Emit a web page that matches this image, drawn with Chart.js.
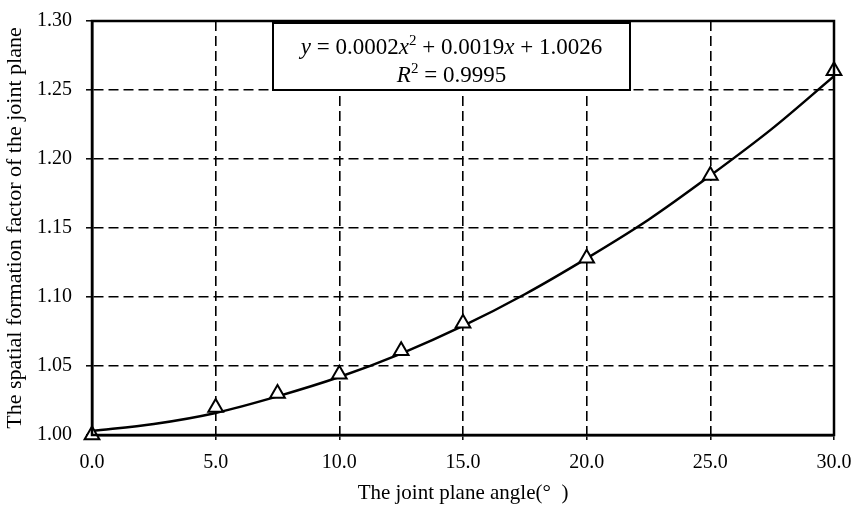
<!DOCTYPE html>
<html>
<head>
<meta charset="utf-8">
<script src="https://cdn.jsdelivr.net/npm/chart.js@4.4.0/dist/chart.umd.min.js"></script>
<style>
html,body{margin:0;padding:0;background:#fff;}
#wrap{width:855px;height:512px;}
</style>
</head>
<body>
<div id="wrap"><canvas id="c" width="855" height="512"></canvas></div>
<script>
// Measured points (joint plane angle vs spatial formation factor)
const angles = [0, 5, 7.5, 10, 12.5, 15, 20, 25, 30];
const factors = [1.000, 1.020, 1.030, 1.044, 1.061, 1.081, 1.128, 1.188, 1.264];
// Trend line
const trendX = [0, 2.5, 5, 7.5, 10, 12.5, 15, 17.5, 20, 22.5, 25, 27.5, 30];
const trendY = [1.003, 1.008, 1.016, 1.028, 1.042, 1.059, 1.079, 1.102, 1.128, 1.156, 1.188, 1.222, 1.260];
const xTicks = [0, 5, 10, 15, 20, 25, 30];
const yTicks = [1.00, 1.05, 1.10, 1.15, 1.20, 1.25, 1.30];
const eqLine1 = [
  {t:'y', i:true}, {t:' = 0.0002'}, {t:'x', i:true}, {t:'2', sup:true},
  {t:' + 0.0019'}, {t:'x', i:true}, {t:' + 1.0026'}
];
const eqLine2 = [{t:'R', i:true}, {t:'2', sup:true}, {t:' = 0.9995'}];
const xTitle = 'The joint plane angle(°  )';
const yTitle = 'The spatial formation factor of the joint plane';

const FONT = '"Liberation Serif", "Times New Roman", serif';

const framePlugin = {
  id: 'frame',
  afterDatasetsDraw(chart) {
    const {ctx, chartArea: a} = chart;
    ctx.save();
    ctx.strokeStyle = '#000';
    ctx.lineWidth = 2.5;
    ctx.strokeRect(a.left, a.top, a.right - a.left, a.bottom - a.top);
    ctx.restore();
  }
};

function drawRich(ctx, segs, cx, cy, size) {
  const fontFor = s => (s.i ? 'italic ' : '') + (s.sup ? Math.round(size*0.65) : size) + 'px ' + FONT;
  let w = 0;
  segs.forEach(s => { ctx.font = fontFor(s); w += ctx.measureText(s.t).width; });
  let x = cx - w/2;
  ctx.textBaseline = 'alphabetic';
  ctx.textAlign = 'left';
  segs.forEach(s => {
    ctx.font = fontFor(s);
    ctx.fillText(s.t, x, s.sup ? cy - size*0.4 : cy);
    x += ctx.measureText(s.t).width;
  });
}

const eqPlugin = {
  id: 'eqbox',
  afterDraw(chart) {
    const {ctx} = chart;
    const bx = 273, by = 23, bw = 357, bh = 67;
    ctx.save();
    ctx.fillStyle = '#fff';
    ctx.fillRect(bx, by, bw, bh);
    ctx.strokeStyle = '#000';
    ctx.lineWidth = 2;
    ctx.strokeRect(bx, by, bw, bh);
    ctx.fillStyle = '#000';
    const cx = bx + bw/2;
    drawRich(ctx, eqLine1, cx, 54, 23);
    drawRich(ctx, eqLine2, cx, 82, 23);
    ctx.restore();
  }
};

new Chart(document.getElementById('c'), {
  type: 'scatter',
  data: {
    datasets: [
      {
        label: 'Measured',
        data: angles.map((x, i) => ({x, y: factors[i]})),
        pointStyle: 'triangle',
        pointRadius: 8.5,
        pointBorderWidth: 2,
        pointBackgroundColor: '#fff',
        pointBorderColor: '#000',
        showLine: false,
        clip: 15,
        order: 0
      },
      {
        label: 'Trend',
        data: trendX.map((x, i) => ({x, y: trendY[i]})),
        showLine: true,
        borderColor: '#000',
        borderWidth: 2.5,
        pointRadius: 0,
        cubicInterpolationMode: 'monotone',
        fill: false,
        order: 1
      }
    ]
  },
  options: {
    responsive: false,
    animation: false,
    events: [],
    layout: {padding: {top: 21, right: 21, left: 0, bottom: 0}},
    plugins: {legend: {display: false}, tooltip: {enabled: false}},
    scales: {
      x: {
        type: 'linear',
        min: 0, max: 30,
        afterBuildTicks: s => { s.ticks = xTicks.map(v => ({value: v})); },
        afterFit: s => { s.height = 77; s.paddingRight = 0; s.paddingLeft = 0; },
        ticks: {
          callback: v => Number(v).toFixed(1),
          color: '#000',
          font: {family: FONT, size: 20},
          padding: 11,
          maxRotation: 0
        },
        grid: {color: '#000', lineWidth: 1.6, tickLength: 5, tickColor: '#000', tickWidth: 1.5},
        border: {display: true, color: '#000', width: 2.5, dash: [10, 5]},
        title: {display: true, text: xTitle, color: '#000', font: {family: FONT, size: 21}, padding: {top: 2, bottom: 6}}
      },
      y: {
        type: 'linear',
        min: 1.0, max: 1.3,
        afterBuildTicks: s => { s.ticks = yTicks.map(v => ({value: v})); },
        afterFit: s => { s.width = 92; s.paddingTop = 0; s.paddingBottom = 0; },
        ticks: {
          callback: v => Number(v).toFixed(2),
          color: '#000',
          font: {family: FONT, size: 20},
          padding: 14
        },
        grid: {color: '#000', lineWidth: 1.6, tickLength: 6, tickColor: '#000', tickWidth: 1.5},
        border: {display: true, color: '#000', width: 2.5, dash: [10, 5]},
        title: {display: true, text: yTitle, color: '#000', font: {family: FONT, size: 22}, padding: {top: 2, bottom: 4}}
      }
    }
  },
  plugins: [framePlugin, eqPlugin]
});
</script>
</body>
</html>
